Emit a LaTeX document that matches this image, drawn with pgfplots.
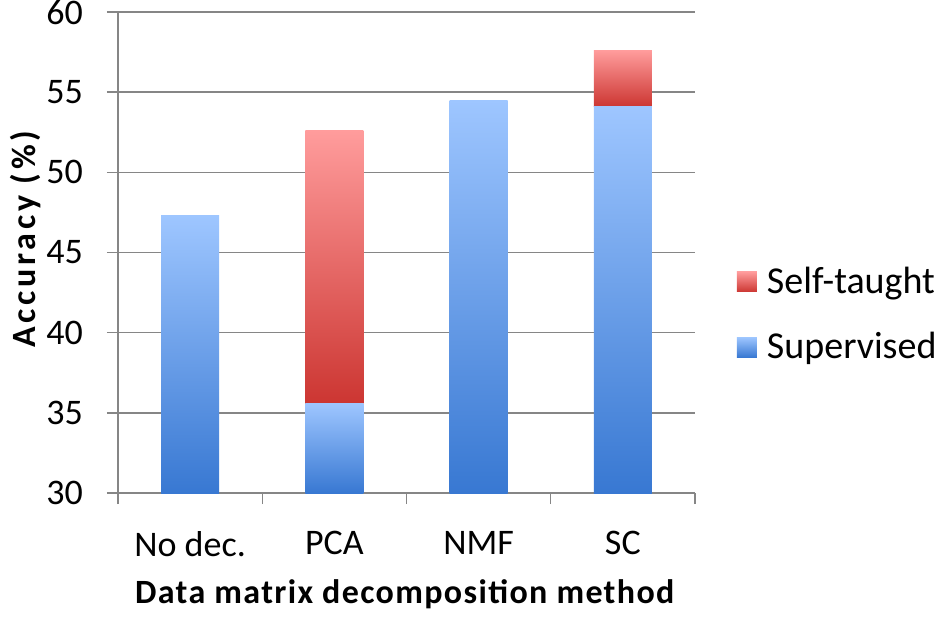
\documentclass[border=0pt]{standalone}
\usepackage{fontspec}
\setmainfont{Carlito}
\newfontfamily\labelfont[LetterSpace=4]{Carlito}
\newfontfamily\ylabelfont[LetterSpace=11]{Carlito}
\usepackage{pgfplots}
\pgfplotsset{compat=1.18}
\definecolor{axgray}{RGB}{134,134,134}
\definecolor{blueTop}{RGB}{158,198,255}
\definecolor{blueBot}{RGB}{56,120,210}
\definecolor{redTop}{RGB}{255,156,156}
\definecolor{redBot}{RGB}{204,54,50}
\pgfplotsset{
  sup/.style={draw=none, shading=axis, bottom color=blueBot, top color=blueTop, forget plot},
  self/.style={draw=none, shading=axis, bottom color=redBot, top color=redTop, forget plot},
  base/.style={draw=none, fill=none, forget plot},
}
\begin{document}
\begin{tikzpicture}
\useasboundingbox (-59pt,-62.5pt) rectangle (409.5pt,246.5pt);
\begin{axis}[
  at={(0,0)}, anchor=south west,
  scale only axis, width=288.5pt, height=240.5pt,
  ybar stacked, stack negative=on previous, bar width=29pt,
  xmin=0, xmax=4, ymin=30, ymax=60,
  axis lines*=left,
  axis line style={axgray, line width=0.7pt},
  tick align=outside, tick pos=left,
  major tick length=5.5pt,
  tick style={axgray, line width=0.7pt},
  ytick={30,35,...,60},
  xtick={0,1,2,3,4},
  xticklabels={No dec., PCA, NMF, SC},
  x tick label as interval,
  ymajorgrids, grid style={axgray, line width=0.7pt},
  /pgf/number format/assume math mode=true,
  tick label style={font=\fontsize{18}{21}\selectfont, black},
  yticklabel style={xshift=-8.5pt},
  xticklabel style={yshift=-10pt},
  xlabel={Data matrix decomposition method},
  ylabel={Accuracy (\%)},
  xlabel style={font=\labelfont\bfseries\fontsize{17}{20}\selectfont,
    at={(axis description cs:0.497,-0.211)}, anchor=center},
  ylabel style={font=\ylabelfont\bfseries\fontsize{17}{20}\selectfont,
    at={(axis description cs:-0.161,0.528)}, anchor=center},
  legend style={at={(rel axis cs:1,0.371)}, xshift=21pt, anchor=west,
    draw=none, fill=none, inner sep=0pt, outer sep=0pt,
    font=\fontsize{19}{22}\selectfont, row sep=18pt,
    nodes={inner sep=0pt, outer sep=0pt}},
  legend cell align=left,
  legend image code/.code={\path[#1,draw=none] (0pt,-5pt) rectangle (10pt,5pt); \path (10pt,0pt) -- (15pt,0pt);},
]
% Each segment is its own one-bar plot (so each bar gets its own gradient);
% all plots stack at index 0, so an invisible "base" bar brings the stack back to 30.
% No dec.: Supervised 47.3
\addplot[base] coordinates {(0.5,30)};
\addplot[sup]  coordinates {(0.5,17.3)};   % 30 -> 47.3
% PCA: Supervised 35.6, Self-taught 52.6
\addplot[base] coordinates {(1.5,-17.3)};  % back to 30
\addplot[sup]  coordinates {(1.5,5.6)};    % 30 -> 35.6
\addplot[self] coordinates {(1.5,17.0)};   % 35.6 -> 52.6
% NMF: Supervised 54.5
\addplot[base] coordinates {(2.5,-22.6)};  % back to 30
\addplot[sup]  coordinates {(2.5,24.5)};   % 30 -> 54.5
% SC: Supervised 54.1, Self-taught 57.6
\addplot[base] coordinates {(3.5,-24.5)};  % back to 30
\addplot[sup]  coordinates {(3.5,24.1)};   % 30 -> 54.1
\addplot[self] coordinates {(3.5,3.5)};    % 54.1 -> 57.6
% legend
\addlegendimage{draw=none, shading=axis, bottom color=redBot, top color=redTop}
\addlegendentry{Self-taught}
\addlegendimage{draw=none, shading=axis, bottom color=blueBot, top color=blueTop}
\addlegendentry{Supervised}
\end{axis}
\end{tikzpicture}
\end{document}
